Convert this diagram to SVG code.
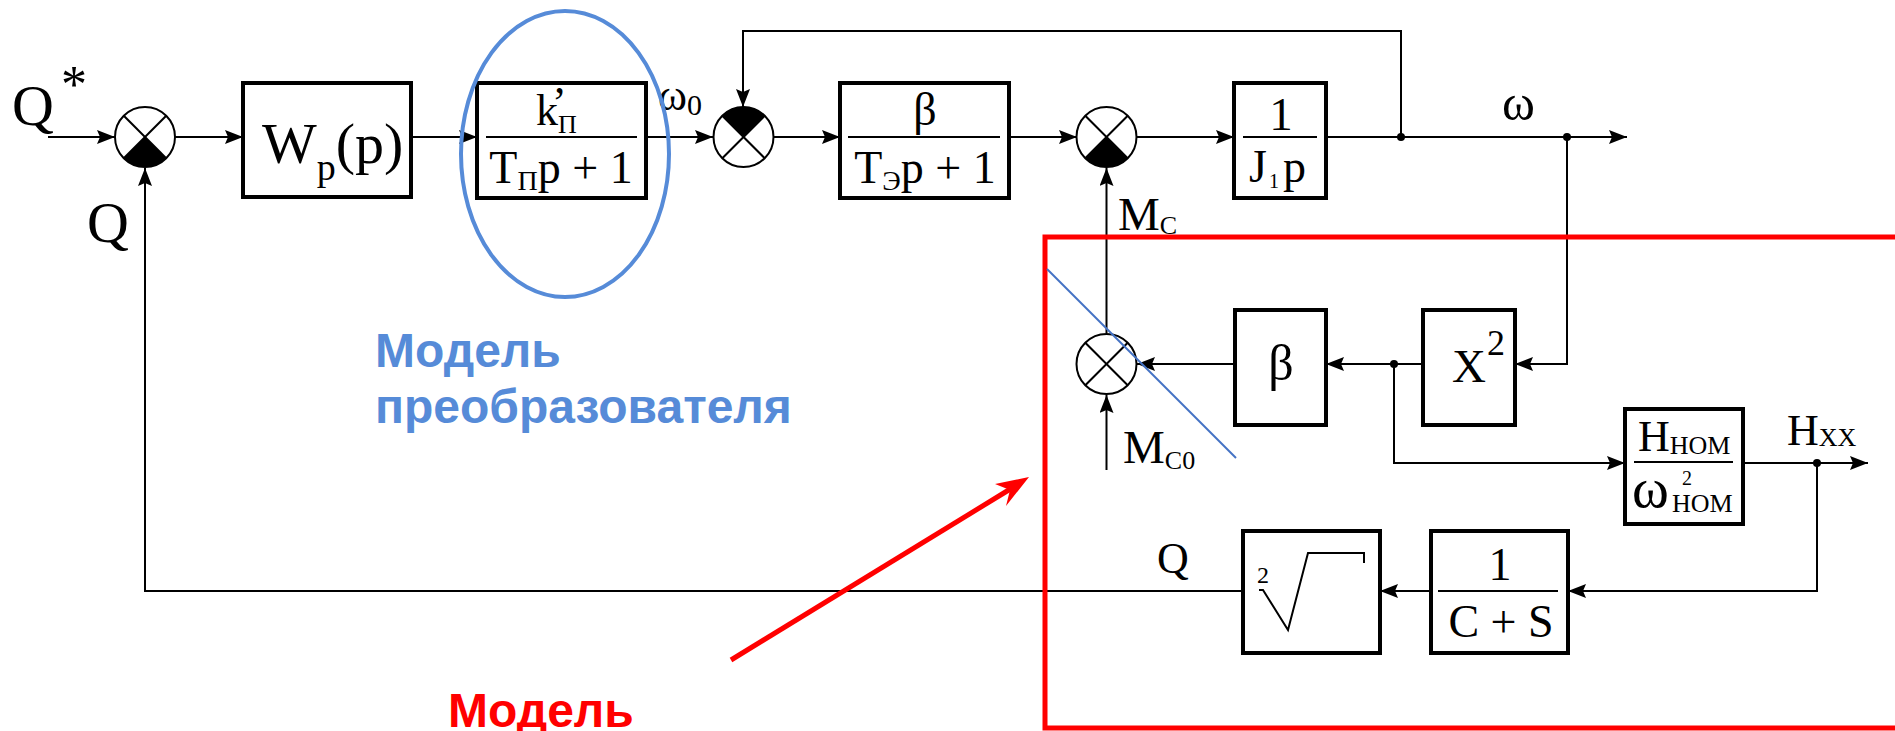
<svg xmlns="http://www.w3.org/2000/svg" xmlns:xlink="http://www.w3.org/1999/xlink" width="1895" height="731" viewBox="0 0 1895 731">
<style>
.box{fill:#fff;stroke:#000;stroke-width:4}
.ln{fill:none;stroke:#000;stroke-width:2}
.frac{stroke:#000;stroke-width:2}
.t{font-family:"Liberation Serif","Times New Roman",serif;fill:#000}
.lbl{font-family:"Liberation Sans",Arial,sans-serif;font-weight:bold}
.sumc{fill:#fff;stroke:#000;stroke-width:2}
</style>
<defs>
<marker id="arr" markerUnits="userSpaceOnUse" markerWidth="20" markerHeight="16" refX="18" refY="7" orient="auto">
<path d="M0,0 L18,7 L0,14 L3,7 z" fill="#000"/>
</marker>
<g id="sumBase">
<circle r="30" class="sumc"/>
<line x1="-21.2" y1="-21.2" x2="21.2" y2="21.2" stroke="#000" stroke-width="2"/>
<line x1="21.2" y1="-21.2" x2="-21.2" y2="21.2" stroke="#000" stroke-width="2"/>
</g>
</defs>
<rect width="1895" height="731" fill="#fff"/>

<!-- connectors -->
<g id="connectors">
<line class="ln" x1="48" y1="137" x2="115" y2="137" marker-end="url(#arr)"/>
<line class="ln" x1="175" y1="137" x2="243" y2="137" marker-end="url(#arr)"/>
<line class="ln" x1="411" y1="137" x2="477" y2="137" marker-end="url(#arr)"/>
<line class="ln" x1="646" y1="137" x2="713" y2="137" marker-end="url(#arr)"/>
<line class="ln" x1="774" y1="137" x2="840" y2="137" marker-end="url(#arr)"/>
<line class="ln" x1="1009" y1="137" x2="1077" y2="137" marker-end="url(#arr)"/>
<line class="ln" x1="1137" y1="137" x2="1234" y2="137" marker-end="url(#arr)"/>
<line class="ln" x1="1326" y1="137" x2="1627" y2="137" marker-end="url(#arr)"/>
<polyline class="ln" points="1401,137 1401,31 743,31 743,107" marker-end="url(#arr)"/>
<polyline class="ln" points="1567,137 1567,364 1515,364" marker-end="url(#arr)"/>
<line class="ln" x1="1423" y1="364" x2="1326" y2="364" marker-end="url(#arr)"/>
<line class="ln" x1="1235" y1="364" x2="1137" y2="364" marker-end="url(#arr)"/>
<line class="ln" x1="1106.5" y1="470" x2="1106.5" y2="395" marker-end="url(#arr)"/>
<line class="ln" x1="1106.5" y1="333" x2="1106.5" y2="168" marker-end="url(#arr)"/>
<polyline class="ln" points="1394,364 1394,463 1625,463" marker-end="url(#arr)"/>
<line class="ln" x1="1743" y1="463" x2="1868" y2="463" marker-end="url(#arr)"/>
<polyline class="ln" points="1817,463 1817,591 1568,591" marker-end="url(#arr)"/>
<line class="ln" x1="1431" y1="591" x2="1380" y2="591" marker-end="url(#arr)"/>
<polyline class="ln" points="1243,591 145,591 145,168" marker-end="url(#arr)"/>
<circle cx="1401" cy="137" r="4"/>
<circle cx="1567" cy="137" r="4"/>
<circle cx="1394" cy="364" r="4"/>
<circle cx="1817" cy="463" r="4"/>
</g>

<!-- signal labels -->
<g id="labels" class="t">
<text x="12" y="125" font-size="58">Q</text>
<text x="61" y="102" font-size="52">*</text>
<text x="87" y="242" font-size="58">Q</text>
<text x="658" y="110" font-size="44">ω<tspan font-size="30" dy="5">0</tspan></text>
<text x="1502" y="120" font-size="50">ω</text>
<text x="1118" y="230" font-size="47">M<tspan font-size="26" dy="4">C</tspan></text>
<text x="1123" y="463" font-size="47">M<tspan font-size="26" dy="6">C0</tspan></text>
<text x="1787" y="445" font-size="44">H<tspan font-size="26" dy="1">XX</tspan></text>
<text x="1157" y="573" font-size="44">Q</text>
</g>

<!-- summing junctions -->
<g id="sum1"><use xlink:href="#sumBase" x="145" y="137"/><path d="M145,137 L166.2,158.2 A30,30 0 0 1 123.8,158.2 Z"/></g>
<g id="sum2"><use xlink:href="#sumBase" x="743.5" y="137"/><path d="M743.5,137 L722.3,115.8 A30,30 0 0 1 764.7,115.8 Z"/></g>
<g id="sum3"><use xlink:href="#sumBase" x="1106.5" y="137"/><path d="M1106.5,137 L1127.7,158.2 A30,30 0 0 1 1085.3,158.2 Z"/></g>
<g id="sum4"><use xlink:href="#sumBase" x="1106.5" y="364"/></g>

<!-- blocks -->
<g id="wp">
<rect class="box" x="243" y="83" width="168" height="114"/>
<text class="t" x="262" y="163" font-size="58">W<tspan font-size="38" dy="17">p</tspan><tspan dy="-17">(p)</tspan></text>
</g>
<g id="kp">
<rect class="box" x="477" y="83" width="169" height="115"/>
<line class="frac" x1="486" y1="137" x2="637" y2="137"/>
<text class="t" x="536" y="125" font-size="44">k<tspan font-size="26" dy="8">П</tspan><tspan x="552" dy="-16">’</tspan></text>
<text class="t" x="561" y="183" font-size="46" text-anchor="middle">T<tspan font-size="28" dy="7">П</tspan><tspan dy="-7">p + 1</tspan></text>
</g>
<g id="beta1">
<rect class="box" x="840" y="83" width="169" height="115"/>
<line class="frac" x1="848" y1="137" x2="1000" y2="137"/>
<text class="t" x="925" y="125" font-size="46" text-anchor="middle">β</text>
<text class="t" x="925" y="183" font-size="46" text-anchor="middle">T<tspan font-size="28" dy="7">Э</tspan><tspan dy="-7">p + 1</tspan></text>
</g>
<g id="j1">
<rect class="box" x="1234" y="83" width="92" height="115"/>
<line class="frac" x1="1243" y1="137" x2="1317" y2="137"/>
<text class="t" x="1281" y="130" font-size="47" text-anchor="middle">1</text>
<text class="t" x="1249" y="182" font-size="46">J<tspan font-size="20" dx="2" dy="6">1</tspan><tspan dx="4" dy="-6">p</tspan></text>
</g>
<g id="beta2">
<rect class="box" x="1235" y="310" width="91" height="115"/>
<text class="t" x="1281" y="380" font-size="50" text-anchor="middle">β</text>
</g>
<g id="x2">
<rect class="box" x="1423" y="310" width="92" height="115"/>
<text class="t" x="1452" y="382" font-size="47">X</text>
<text class="t" x="1487" y="355" font-size="36">2</text>
</g>
<g id="hnom">
<rect class="box" x="1625" y="409" width="118" height="115"/>
<line class="frac" x1="1634" y1="462" x2="1733" y2="462"/>
<text class="t" x="1638" y="451" font-size="44">H<tspan font-size="26" dy="3">НОМ</tspan></text>
<text class="t" x="1632" y="507" font-size="56">ω</text>
<text class="t" x="1672" y="512" font-size="26">НОМ</text>
<text class="t" x="1682" y="485" font-size="20">2</text>
</g>
<g id="cs">
<rect class="box" x="1431" y="531" width="137" height="122"/>
<line class="frac" x1="1438" y1="591" x2="1558" y2="591"/>
<text class="t" x="1500" y="580" font-size="46" text-anchor="middle">1</text>
<text class="t" x="1501" y="637" font-size="46" text-anchor="middle">C + S</text>
</g>
<g id="sqrt">
<rect class="box" x="1243" y="531" width="137" height="122"/>
<polyline points="1259,590 1263,590 1288,630 1308,553 1364,553 1364,563" fill="none" stroke="#000" stroke-width="2"/>
<text class="t" x="1257" y="583" font-size="24">2</text>
</g>

<!-- annotations -->
<g id="converter-note">
<ellipse cx="565" cy="154" rx="104" ry="143" fill="none" stroke="#568BD8" stroke-width="4"/>
<text class="lbl" x="375" y="367" font-size="48" fill="#568BD8">Модель</text>
<text class="lbl" x="375" y="423" font-size="48" fill="#568BD8">преобразователя</text>
</g>
<g id="load-note">
<rect x="1045" y="237" width="900" height="491" fill="none" stroke="#FF0000" stroke-width="5"/>
<line x1="1047" y1="269" x2="1236" y2="458" stroke="#4472C4" stroke-width="2"/>
<line x1="731" y1="660" x2="1012" y2="488" stroke="#FF0000" stroke-width="5"/>
<polygon points="1029,477 1006,506 1010,490 995,484" fill="#FF0000"/>
<text class="lbl" x="448" y="727" font-size="48" fill="#FF0000">Модель</text>
</g>
</svg>
